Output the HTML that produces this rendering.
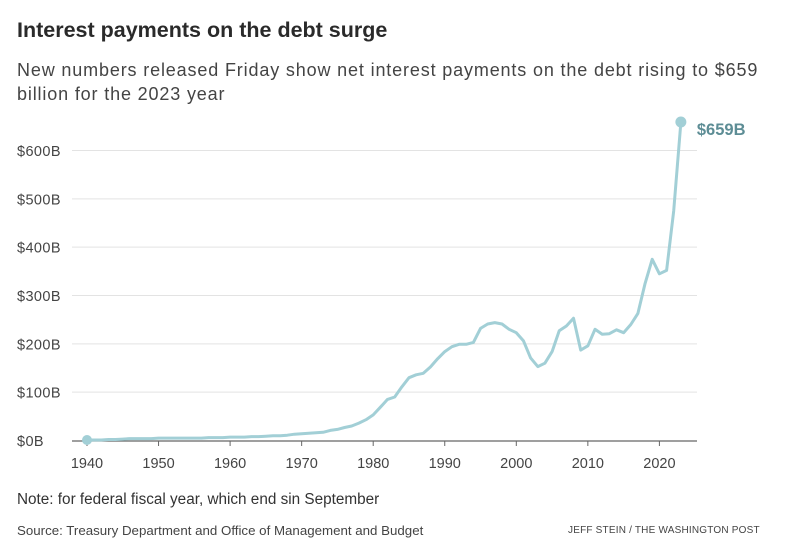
<!DOCTYPE html>
<html><head><meta charset="utf-8">
<style>
html,body{margin:0;padding:0;background:#fff;}
body{width:800px;height:554px;overflow:hidden;position:relative;font-family:"Liberation Sans",sans-serif;}
.t{position:absolute;white-space:nowrap;}
</style></head><body>
<div class="t" style="left:17px;top:18px;font-size:21.5px;font-weight:bold;color:#2a2a2a;">Interest payments on the debt surge</div>
<div class="t" style="left:17px;top:58px;font-size:18px;letter-spacing:0.85px;line-height:24px;color:#444;white-space:normal;width:770px;">New numbers released Friday show net interest payments on the debt rising to $659 billion for the 2023 year</div>
<svg id="chart" width="800" height="554" style="position:absolute;left:0;top:0;" xmlns="http://www.w3.org/2000/svg"></svg>
<div class="t" style="left:17px;top:491px;font-size:15.3px;color:#333;">Note: for federal fiscal year, which end sin September</div>
<div class="t" style="left:17px;top:523px;font-size:13.3px;color:#444;">Source: Treasury Department and Office of Management and Budget</div>
<div class="t" style="left:568px;top:525px;font-size:10px;color:#444;letter-spacing:0.2px;">JEFF STEIN / THE WASHINGTON POST</div>
<script>
const years = [1940,1941,1942,1943,1944,1945,1946,1947,1948,1949,1950,1951,1952,1953,1954,1955,1956,1957,1958,1959,1960,1961,1962,1963,1964,1965,1966,1967,1968,1969,1970,1971,1972,1973,1974,1975,1976,1977,1978,1979,1980,1981,1982,1983,1984,1985,1986,1987,1988,1989,1990,1991,1992,1993,1994,1995,1996,1997,1998,1999,2000,2001,2002,2003,2004,2005,2006,2007,2008,2009,2010,2011,2012,2013,2014,2015,2016,2017,2018,2019,2020,2021,2022,2023];
const interest = [1,1,1,2,2,3,4,4,4,4,5,5,5,5,5,5,5,6,6,6,7,7,7,8,8,9,10,10,11,13,14,15,16,17,21,23,27,30,36,43,53,69,85,90,111,130,136,139,152,169,184,194,199,199,203,232,241,244,241,230,223,206,171,153,160,184,227,237,253,187,196,230,220,221,229,223,240,263,325,375,345,352,475,659];
const yTicks = [0,100,200,300,400,500,600];
const yTickLabels = ["$0B","$100B","$200B","$300B","$400B","$500B","$600B"];
const xTicks = [1940,1950,1960,1970,1980,1990,2000,2010,2020];
const endLabel = "$659B";

const NS="http://www.w3.org/2000/svg";
const svg=document.getElementById('chart');
const x=v=>87+(v-1940)*7.155;
const y=v=>440.5-v*0.4833;
function mk(t,a){const e=document.createElementNS(NS,t);for(const k in a)e.setAttribute(k,a[k]);svg.appendChild(e);return e;}
yTicks.forEach((v,i)=>{
  if(v>0){const g=mk('line',{x1:72,x2:697,y1:y(v),y2:y(v),stroke:'#e3e3e3','stroke-width':1});
  
  }
  const t=mk('text',{x:17,y:y(v)+5.5,'font-size':14.5,'letter-spacing':0.4,fill:'#444','font-family':'Liberation Sans, sans-serif'});
  t.textContent=yTickLabels[i];
  
  
});
const ax=mk('line',{x1:72,x2:697,y1:441,y2:441,stroke:'#666','stroke-width':1.2});


xTicks.forEach(v=>{
  const tk=mk('line',{x1:x(v),x2:x(v),y1:441,y2:446,stroke:'#666','stroke-width':1});
  
  
  const t=mk('text',{x:x(v),y:468,'font-size':14.5,fill:'#444','text-anchor':'middle','font-family':'Liberation Sans, sans-serif'});
  t.textContent=v;
  
  
});
const d=years.map((yr,i)=>(i?'L':'M')+x(yr).toFixed(1)+','+y(interest[i]).toFixed(1)).join(' ');
const p=mk('path',{d:d,fill:'none',stroke:'#a2cfd6','stroke-width':3,'stroke-linejoin':'round'});


const n=years.length-1;
const c0=mk('circle',{cx:x(years[0]),cy:y(interest[0]),r:5,fill:'#a2cfd6'});


const c1=mk('circle',{cx:x(years[n]),cy:y(interest[n]),r:5.5,fill:'#a2cfd6'});


const el=mk('text',{x:x(years[n])+16,y:y(interest[n])+13,'font-size':16.5,'font-weight':'bold',fill:'#5d8d95','font-family':'Liberation Sans, sans-serif'});
el.textContent=endLabel;


</script>
</body></html>
